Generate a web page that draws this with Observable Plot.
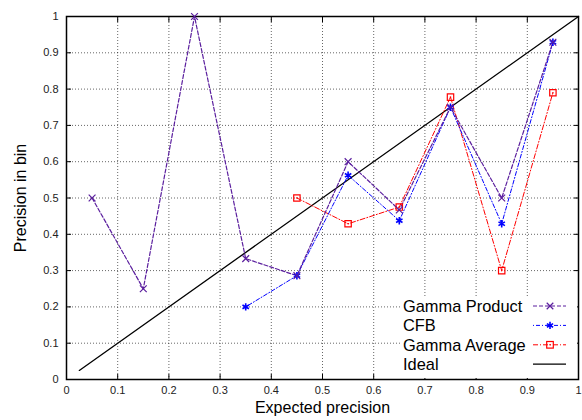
<!DOCTYPE html>
<html><head><meta charset="utf-8">
<script src="https://cdn.jsdelivr.net/npm/d3@7"></script>
<script src="https://cdn.jsdelivr.net/npm/@observablehq/plot@0.6"></script>
<style>
body{margin:0;background:#fff;font-family:"Liberation Sans",Arial,sans-serif;}
#wrap{position:relative;width:582px;height:420px;}
#legend{position:absolute;left:0;top:0;}
</style></head>
<body><div id="wrap"></div>
<script>
// data
const binX = [0.05, 0.15, 0.25, 0.35, 0.45, 0.55, 0.65, 0.75, 0.85, 0.95];
const gammaProduct = [0.5, 0.25, 1.0, 0.333, 0.286, 0.6, 0.467, 0.75, 0.5, 0.929];
const cfbX = [0.35, 0.45, 0.55, 0.65, 0.75, 0.85, 0.95];
const cfb = [0.2, 0.286, 0.5625, 0.4375, 0.75, 0.429, 0.929];
const avgX = [0.45, 0.55, 0.65, 0.75, 0.85, 0.95];
const gammaAverage = [0.5, 0.429, 0.475, 0.778, 0.3, 0.79];
const idealX = [0.025, 1];
const ticks = [0, 0.1, 0.2, 0.3, 0.4, 0.5, 0.6, 0.7, 0.8, 0.9, 1];
const seriesNames = ["Gamma Product", "CFB", "Gamma Average", "Ideal"];
const colors = {"Gamma Product": "#5b1f9e", "CFB": "#0000ff", "Gamma Average": "#ff0000", "Ideal": "#000000"};
const dashes = {"Gamma Product": "4,2", "CFB": "1,2,4,2", "Gamma Average": "5,2,1,2", "Ideal": null};

const gp = binX.map((x, i) => ({x, y: gammaProduct[i]}));
const cf = cfbX.map((x, i) => ({x, y: cfb[i]}));
const ga = avgX.map((x, i) => ({x, y: gammaAverage[i]}));
const id = idealX.map(x => ({x, y: x}));
const fmt = d => String(d);

const W = 582, H = 420, mL = 66, mR = 4, mT = 16, mB = 41;

const chart = Plot.plot({
  width: W, height: H,
  marginLeft: mL, marginRight: mR, marginTop: mT, marginBottom: mB,
  style: {fontFamily: "Liberation Sans, Arial, sans-serif", fontSize: "11px", background: "#fff", color: "#000"},
  x: {domain: [0, 1]},
  y: {domain: [0, 1]},
  marks: [
    Plot.gridX(ticks, {stroke: "#000", strokeOpacity: 0.6, strokeDasharray: "1,2"}),
    Plot.gridY(ticks, {stroke: "#000", strokeOpacity: 0.6, strokeDasharray: "1,2"}),
    Plot.axisX(ticks, {anchor: "bottom", tickSize: -5, tickPadding: 12, tickFormat: fmt, fontSize: 11, fill: "#222", label: "Expected precision", labelAnchor: "center", labelArrow: "none", labelOffset: 33}),
    Plot.axisX(ticks, {anchor: "top", tickSize: -5, text: null, label: null}),
    Plot.axisY(ticks, {anchor: "left", tickSize: -5, tickPadding: 13, tickFormat: fmt, fontSize: 11, fill: "#222", label: "Precision in bin", labelAnchor: "center", labelArrow: "none", labelOffset: 52}),
    Plot.axisY(ticks, {anchor: "right", tickSize: -5, text: null, label: null}),
    Plot.frame({stroke: "#000", strokeWidth: 1.5}),
    Plot.line(id, {x: "x", y: "y", stroke: colors["Ideal"], strokeWidth: 1.3}),
    Plot.line(ga, {x: "x", y: "y", stroke: colors["Gamma Average"], strokeDasharray: dashes["Gamma Average"], strokeWidth: 1}),
    Plot.line(cf, {x: "x", y: "y", stroke: colors["CFB"], strokeDasharray: dashes["CFB"], strokeWidth: 1}),
    Plot.line(gp, {x: "x", y: "y", stroke: colors["Gamma Product"], strokeDasharray: dashes["Gamma Product"], strokeWidth: 1.2}),
    Plot.dot(ga, {x: "x", y: "y", symbol: "square", r: 3.6, stroke: colors["Gamma Average"], strokeWidth: 1.2}),
    Plot.dot(ga, {x: "x", y: "y", r: 0.8, fill: colors["Gamma Average"]}),
    Plot.dot(cf, {x: "x", y: "y", symbol: "asterisk", r: 3.5, stroke: colors["CFB"], strokeWidth: 1.6}),
    Plot.dot(gp, {x: "x", y: "y", symbol: "times", r: 3.2, stroke: colors["Gamma Product"], strokeWidth: 1.2})
  ]
});
chart.querySelectorAll("text").forEach(t => {
  if (t.textContent === "Expected precision" || t.textContent === "Precision in bin") {
    t.setAttribute("font-size", "16px");
    t.setAttribute("fill", "#000");
  }
});
document.getElementById("wrap").appendChild(chart);

// legend overlay (inside plot area, bottom right)
const lg = d3.select("#wrap").append("svg").attr("id", "legend").attr("width", W).attr("height", H);
lg.append("rect").attr("x", 400).attr("y", 296).attr("width", 177).attr("height", 82).attr("fill", "#fff");
seriesNames.forEach((name, i) => {
  const y = 306 + i * 19.4;
  lg.append("text").attr("x", 403).attr("y", y).attr("dy", "0.35em")
    .attr("font-size", "16.4px").attr("font-family", "Liberation Sans, Arial, sans-serif").text(name);
  lg.append("line").attr("x1", 533).attr("x2", 566).attr("y1", y).attr("y2", y)
    .attr("stroke", colors[name]).attr("stroke-width", name === "Ideal" ? 1.3 : 1)
    .attr("stroke-dasharray", dashes[name]);
  const cx = 550;
  if (name === "Gamma Product") {
    lg.append("path").attr("d", d3.symbol(d3.symbolTimes, 30)()).attr("transform", `translate(${cx},${y})`).attr("stroke", colors[name]).attr("fill", "none").attr("stroke-width", 1.2);
  } else if (name === "CFB") {
    lg.append("path").attr("d", d3.symbol(d3.symbolAsterisk, 36)()).attr("transform", `translate(${cx},${y})`).attr("stroke", colors[name]).attr("fill", "none").attr("stroke-width", 1.6);
  } else if (name === "Gamma Average") {
    lg.append("rect").attr("x", cx - 3.3).attr("y", y - 3.3).attr("width", 6.6).attr("height", 6.6).attr("stroke", colors[name]).attr("fill", "none").attr("stroke-width", 1.2);
    lg.append("circle").attr("cx", cx).attr("cy", y).attr("r", 0.8).attr("fill", colors[name]);
  }
});
</script></body></html>
